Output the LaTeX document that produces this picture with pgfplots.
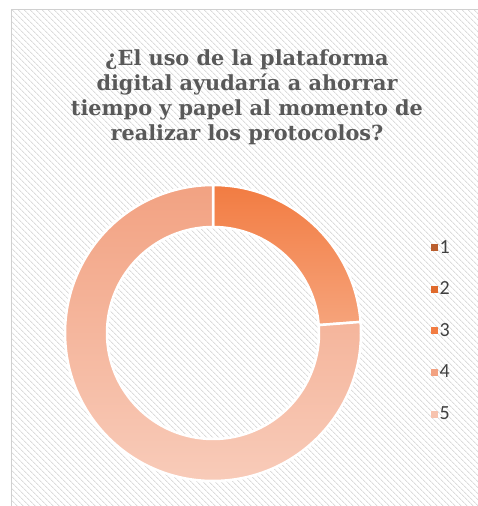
\documentclass[border=0pt]{standalone}
\usepackage{fontspec}
\setmainfont{DejaVu Serif}
\newfontfamily\legendfont{Carlito}
\usepackage{pgfplots}
\usepackage{pgfplotstable}
\pgfplotsset{compat=1.18}
\usetikzlibrary{patterns.meta}

\definecolor{titlegray}{HTML}{595959}
\definecolor{legtext}{HTML}{404040}
\definecolor{hatch}{HTML}{DCDCDC}
\definecolor{frame}{HTML}{D0D0D0}
\definecolor{ansA}{HTML}{BA5E2E}
\definecolor{ansB}{HTML}{E06A2C}
\definecolor{ansC}{HTML}{F27C42}
\definecolor{ansD}{HTML}{F2A282}
\definecolor{ansE}{HTML}{F7C3AE}

% answers to the question, counts per option
\pgfplotstableread{
cat value
1 0
2 0
3 5
4 16
5 0
}\answers

\tikzset{
  slice0/.style={fill=ansA},
  slice1/.style={fill=ansB},
  slice2/.style={top color=ansC, bottom color=ansC!70!white},
  slice3/.style={top color=ansD, bottom color=ansE!85!white},
  slice4/.style={fill=ansE},
}

\begin{document}
\begin{tikzpicture}
\useasboundingbox (0,0) rectangle (478pt,506pt);
\fill[white] (0,0) rectangle (478pt,506pt);
\begin{axis}[
    at={(0,0)}, anchor=origin,
    x=1pt, y=1pt,
    xmin=0, xmax=478, ymin=0, ymax=506,
    hide axis,
    clip=false,
    title={¿El uso de la plataforma\\digital ayudaría a ahorrar\\tiempo y papel al momento de\\realizar los protocolos?},
    title style={at={(axis cs:247,454)}, anchor=north, align=center,
      font=\fontsize{20.8}{25}\selectfont\bfseries, text=titlegray},
    legend style={at={(axis cs:431,268)}, anchor=north west, draw=none, fill=none,
      font=\legendfont\fontsize{20}{20}\selectfont, text=legtext,
      row sep=23.2pt, inner sep=0pt},
    legend cell align=left,
    legend image code/.code={\fill[#1] (0pt,-3pt) rectangle (6pt,3pt);},
]
% chart area: hatched background and frame
\fill[pattern={Lines[angle=-45, distance=4pt, line width=1pt]}, pattern color=hatch]
  (axis cs:11,0) rectangle (axis cs:478,496);
\draw[frame, line width=1pt] (axis cs:11,-2) -- (axis cs:11,496) -- (axis cs:480,496);

\addlegendimage{ansA}\addlegendentry{1}
\addlegendimage{ansB}\addlegendentry{2}
\addlegendimage{ansC}\addlegendentry{3}
\addlegendimage{ansD}\addlegendentry{4}
\addlegendimage{ansE}\addlegendentry{5}

\pgfplotsextra{
  \coordinate (c) at (axis cs:213,173);
  \def\total{0}
  \pgfplotsforeachungrouped \i in {0,...,4}{%
    \pgfplotstablegetelem{\i}{value}\of\answers
    \pgfmathsetmacro\total{\total+\pgfplotsretval}}
  \def\angA{90}
  \pgfplotsforeachungrouped \i in {0,...,4}{%
    \pgfplotstablegetelem{\i}{value}\of\answers
    \pgfmathsetmacro\angB{\angA-360*\pgfplotsretval/\total}
    \ifdim\pgfplotsretval pt>0pt
      \path[slice\i, draw=white, line width=2.5pt]
        ([shift={(\angA:148pt)}]c) arc[start angle=\angA, end angle=\angB, radius=148pt]
        -- ([shift={(\angB:106pt)}]c) arc[start angle=\angB, end angle=\angA, radius=106pt]
        -- cycle;
    \fi
    \let\angA\angB}
}
\end{axis}
\end{tikzpicture}
\end{document}
